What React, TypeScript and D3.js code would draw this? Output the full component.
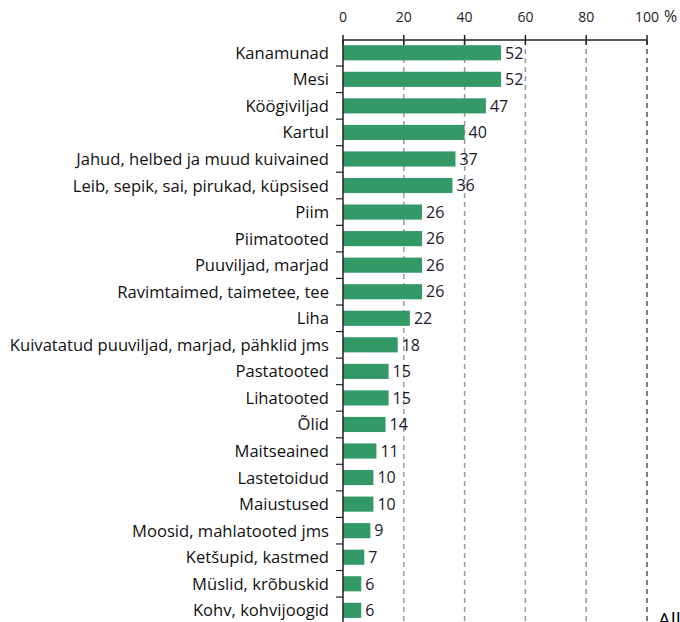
import React from "react";
import * as d3 from "d3";

const categories = [
  "Kanamunad",
  "Mesi",
  "Köögiviljad",
  "Kartul",
  "Jahud, helbed ja muud kuivained",
  "Leib, sepik, sai, pirukad, küpsised",
  "Piim",
  "Piimatooted",
  "Puuviljad, marjad",
  "Ravimtaimed, taimetee, tee",
  "Liha",
  "Kuivatatud puuviljad, marjad, pähklid jms",
  "Pastatooted",
  "Lihatooted",
  "Õlid",
  "Maitseained",
  "Lastetoidud",
  "Maiustused",
  "Moosid, mahlatooted jms",
  "Ketšupid, kastmed",
  "Müslid, krõbuskid",
  "Kohv, kohvijoogid",
];
const values = [52, 52, 47, 40, 37, 36, 26, 26, 26, 26, 22, 18, 15, 15, 14, 11, 10, 10, 9, 7, 6, 6];
const xTicks = [0, 20, 40, 60, 80, 100];

const W = 680;
const H = 622;
const x0 = 343;
const x1 = 647;
const axisY = 40;

export default function App() {
  const x = d3.scaleLinear().domain([0, 100]).range([x0, x1]);
  const y = d3
    .scaleBand<string>()
    .domain(categories)
    .range([39.5, 39.5 + 22 * 26.55])
    .paddingInner(0.43)
    .paddingOuter(0.215);
  const step = y.step();
  const bandStart = 39.5;
  const font = "Open Sans, sans-serif";
  return (
    <svg
      width={W}
      height={H}
      style={{ position: "absolute", left: 0, top: 0, display: "block", background: "#fff" }}
    >
      {/* grid lines */}
      {xTicks.slice(1).map((t) => (
        <line
          key={"g" + t}
          x1={x(t)}
          x2={x(t)}
          y1={axisY}
          y2={H}
          stroke={t === 100 ? "#555" : "#999"}
          strokeWidth={1.5}
          strokeDasharray="5,4"
        />
      ))}
      {/* bars */}
      {categories.map((c, i) => (
        <g key={c}>
          <rect
            x={x(0)}
            y={y(c)!}
            width={x(values[i]) - x(0)}
            height={y.bandwidth()}
            fill="#339966"
          />
          <text
            x={x(values[i]) + 4}
            y={y(c)! + y.bandwidth() / 2}
            dy="0.36em"
            fontFamily={font}
            fontSize={16}
            fill="#1a1a2a"
          >
            {values[i]}
          </text>
          <text
            x={329}
            y={y(c)! + y.bandwidth() / 2}
            dy="0.36em"
            textAnchor="end"
            fontFamily={font}
            fontSize={16.6}
            fill="#111"
          >
            {c}
          </text>
        </g>
      ))}
      {/* category ticks */}
      {d3.range(1, 23).map((k) => (
        <line
          key={"ct" + k}
          x1={336}
          x2={x0}
          y1={bandStart + k * step}
          y2={bandStart + k * step}
          stroke="#222"
          strokeWidth={1.2}
        />
      ))}
      {/* left axis */}
      <line x1={x0} x2={x0} y1={axisY} y2={H} stroke="#222" strokeWidth={1.5} />
      {/* top axis */}
      <line x1={x0} x2={x1} y1={axisY} y2={axisY} stroke="#222" strokeWidth={1.5} />
      {xTicks.map((t) => (
        <g key={"t" + t}>
          <line x1={x(t)} x2={x(t)} y1={axisY - 5} y2={axisY + 5} stroke="#222" strokeWidth={1.5} />
          <text
            x={x(t)}
            y={22}
            textAnchor="middle"
            fontFamily={font}
            fontSize={14}
            fill="#222"
          >
            {t}
          </text>
        </g>
      ))}
      <text x={664} y={22} fontFamily={font} fontSize={16} fill="#222">
        %
      </text>
      <text x={658} y={627} fontFamily={font} fontSize={20} fill="#000">
        Allikas
      </text>
    </svg>
  );
}
